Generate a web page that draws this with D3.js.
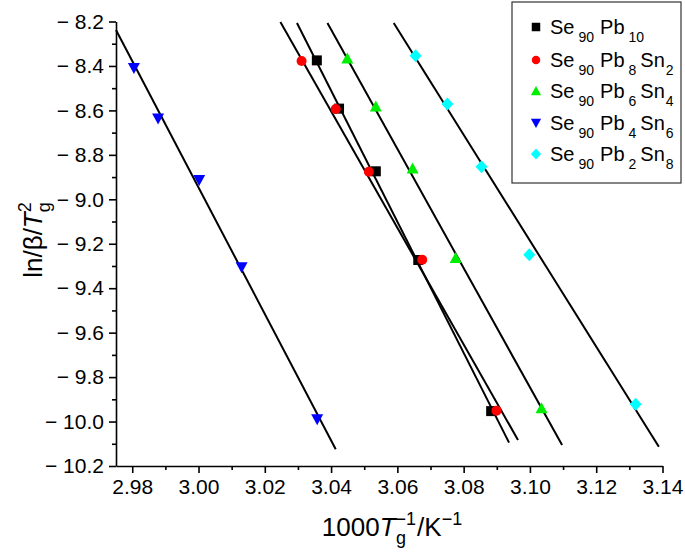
<!DOCTYPE html>
<html>
<head>
<meta charset="utf-8">
<script src="https://cdn.jsdelivr.net/npm/d3@7"></script>
<style>
  body { margin: 0; background: #fff; }
  text { font-family: "Liberation Sans", Arial, sans-serif; fill: #000; }
</style>
</head>
<body>
<div id="container"></div>
<script>
// series data
const seriesNames = [
  {base: "Pb", pb: "10", sn: null},
  {base: "Pb", pb: "8", sn: "2"},
  {base: "Pb", pb: "6", sn: "4"},
  {base: "Pb", pb: "4", sn: "6"},
  {base: "Pb", pb: "2", sn: "8"}
];
const colors = ["#000000", "#ff0000", "#00ee00", "#0000ff", "#00ffff"];
const symbols = ["square", "circle", "triangleUp", "triangleDown", "diamond"];

const xPb10 = [3.0357, 3.0424, 3.0535, 3.0663, 3.0883];
const yPb10 = [-8.375, -8.592, -8.874, -9.273, -9.953];
const xPb8Sn2 = [3.0311, 3.0414, 3.0514, 3.0675, 3.0899];
const yPb8Sn2 = [-8.378, -8.594, -8.876, -9.272, -9.951];
const xPb6Sn4 = [3.0449, 3.0535, 3.0646, 3.0776, 3.1035];
const yPb6Sn4 = [-8.366, -8.583, -8.861, -9.264, -9.940];
const xPb4Sn6 = [2.9805, 2.9878, 3.0002, 3.0130, 3.0358];
const yPb4Sn6 = [-8.409, -8.636, -8.913, -9.306, -9.990];
const xPb2Sn8 = [3.0655, 3.0751, 3.0854, 3.0998, 3.1319];
const yPb2Sn8 = [-8.354, -8.571, -8.853, -9.249, -9.922];

// fitted line end points [x1, y1, x2, y2]
const fitPb10 = [3.0297, -8.207, 3.0937, -10.095];
const fitPb8Sn2 = [3.0247, -8.202, 3.0964, -10.083];
const fitPb6Sn4 = [3.0389, -8.207, 3.1097, -10.106];
const fitPb4Sn6 = [2.9751, -8.238, 3.0414, -10.125];
const fitPb2Sn8 = [3.0589, -8.207, 3.1389, -10.113];

const xTicks = [2.98, 3.00, 3.02, 3.04, 3.06, 3.08, 3.10, 3.12, 3.14];
const xMinor = [2.99, 3.01, 3.03, 3.05, 3.07, 3.09, 3.11, 3.13];
const yTicks = [-8.2, -8.4, -8.6, -8.8, -9.0, -9.2, -9.4, -9.6, -9.8, -10.0, -10.2];
const yMinor = [-8.3, -8.5, -8.7, -8.9, -9.1, -9.3, -9.5, -9.7, -9.9, -10.1];

const xs = [xPb10, xPb8Sn2, xPb6Sn4, xPb4Sn6, xPb2Sn8];
const ys = [yPb10, yPb8Sn2, yPb6Sn4, yPb4Sn6, yPb2Sn8];
const fits = [fitPb10, fitPb8Sn2, fitPb6Sn4, fitPb4Sn6, fitPb2Sn8];

const W = 685, H = 552;
const svg = d3.select("#container").append("svg")
  .attr("width", W).attr("height", H);

const x = d3.scaleLinear().domain([2.9751, 3.14]).range([116, 662.5]);
const y = d3.scaleLinear().domain([-10.2, -8.2]).range([466, 21.5]);

const fmtY = d => "\u2212 " + Math.abs(d).toFixed(1);

// x axis
const gx = svg.append("g").attr("transform", `translate(0,${y(-10.2)})`);
gx.call(d3.axisBottom(x).tickValues(xTicks).tickFormat(d3.format(".2f")).tickSize(7).tickSizeOuter(0).tickPadding(6));
gx.append("g").call(d3.axisBottom(x).tickValues(xMinor).tickFormat("").tickSize(4).tickSizeOuter(0))
  .select(".domain").remove();

// y axis
const gy = svg.append("g").attr("transform", `translate(${x(2.9751)},0)`);
gy.call(d3.axisLeft(y).tickValues(yTicks).tickFormat(fmtY).tickSize(7).tickSizeOuter(0).tickPadding(5));
gy.append("g").call(d3.axisLeft(y).tickValues(yMinor).tickFormat("").tickSize(4).tickSizeOuter(0))
  .select(".domain").remove();

svg.selectAll(".domain").attr("stroke-width", 1.6);
svg.selectAll(".tick line").attr("stroke-width", 1.6);
svg.selectAll(".tick text").style("font-size", "21px").style("font-family", "Liberation Sans, Arial, sans-serif");

// fitted lines
svg.append("g").selectAll("line")
  .data(fits)
  .join("line")
  .attr("x1", d => x(d[0])).attr("y1", d => y(d[1]))
  .attr("x2", d => x(d[2])).attr("y2", d => y(d[3]))
  .attr("stroke", "#000").attr("stroke-width", 2);

// marker shapes
function markerPath(kind) {
  if (kind === "square") return "M-5,-5H5V5H-5Z";
  if (kind === "circle") return "M5,0A5,5 0 1,1 -5,0A5,5 0 1,1 5,0Z";
  if (kind === "triangleUp") return "M0,-6L6,5H-6Z";
  if (kind === "triangleDown") return "M0,6L6,-5H-6Z";
  return "M0,-6.5L6,0L0,6.5L-6,0Z";
}

// points
xs.forEach((arr, i) => {
  svg.append("g").selectAll("path")
    .data(arr.map((v, j) => [v, ys[i][j]]))
    .join("path")
    .attr("d", markerPath(symbols[i]))
    .attr("transform", d => `translate(${x(d[0])},${y(d[1])})`)
    .attr("fill", colors[i]);
});

// axis titles
const yTitle = svg.append("text")
  .attr("transform", "translate(42,240) rotate(-90)")
  .attr("text-anchor", "middle")
  .style("font-size", "26px");
yTitle.append("tspan").text("ln/\u03B2/");
yTitle.append("tspan").style("font-style", "italic").text("T");
yTitle.append("tspan").attr("dy", -11).style("font-size", "18px").text("2");
yTitle.append("tspan").attr("dx", -10).attr("dy", 19).style("font-size", "18px").text("g");

const xTitle = svg.append("text")
  .attr("x", 392).attr("y", 536)
  .attr("text-anchor", "middle")
  .style("font-size", "26px");
xTitle.append("tspan").text("1000");
xTitle.append("tspan").style("font-style", "italic").text("T");
xTitle.append("tspan").attr("dy", -11).style("font-size", "18px").text("\u22121");
xTitle.append("tspan").attr("dx", -20).attr("dy", 19).style("font-size", "18px").text("g");
xTitle.append("tspan").attr("dx", 11).attr("dy", -8).text("/K");
xTitle.append("tspan").attr("dy", -11).style("font-size", "18px").text("\u22121");

// legend
const legend = svg.append("g");
legend.append("rect")
  .attr("x", 512).attr("y", 2).attr("width", 169).attr("height", 181)
  .attr("fill", "#fff").attr("stroke", "#333").attr("stroke-width", 1.2);

const rowY = [27, 60, 91, 123, 154];
seriesNames.forEach((s, i) => {
  legend.append("path")
    .attr("d", markerPath(symbols[i]))
    .attr("transform", `translate(536,${rowY[i]}) scale(0.85)`)
    .attr("fill", colors[i]);
  const t = legend.append("text")
    .attr("x", 550).attr("y", rowY[i] + 7)
    .style("font-size", "20px");
  t.append("tspan").text("Se");
  t.append("tspan").attr("dx", 4).attr("dy", 8).style("font-size", "14px").text("90");
  t.append("tspan").attr("dx", 6).attr("dy", -8).text(s.base);
  t.append("tspan").attr("dx", 4).attr("dy", 8).style("font-size", "14px").text(s.pb);
  if (s.sn) {
    t.append("tspan").attr("dx", 4).attr("dy", -8).text("Sn");
    t.append("tspan").attr("dx", 1).attr("dy", 8).style("font-size", "14px").text(s.sn);
  }
});
</script>
</body>
</html>
